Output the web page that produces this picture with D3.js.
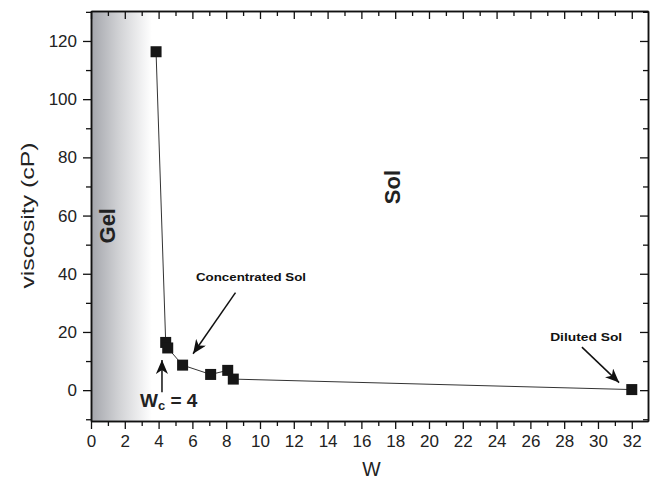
<!DOCTYPE html>
<html>
<head>
<meta charset="utf-8">
<script src="https://cdn.jsdelivr.net/npm/d3@7"></script>
<style>
  body { margin: 0; background: #fff; }
  svg { font-family: "Liberation Sans", Arial, sans-serif; }
  .tick text { font-size: 17px; fill: #222; }
  .domain { stroke: #111; stroke-width: 1.5; }
  .tick line { stroke: #111; stroke-width: 1.3; }
</style>
</head>
<body>
<svg></svg>
<script>
const width = 657;
const height = 479;
const margin = { top: 11, right: 9, bottom: 58, left: 91 };

// Datos
const wValues = [3.85, 4.42, 4.54, 5.42, 7.08, 8.09, 8.42, 32];
const viscosity = [116.3, 16.4, 14.5, 8.6, 5.4, 6.8, 3.8, 0.2];
const xTicks = d3.range(0, 33, 2);
const yTicks = [0, 20, 40, 60, 80, 100, 120];

const svg = d3.select("svg").attr("width", width).attr("height", height);

const x = d3.scaleLinear().domain([0, 32.96]).range([margin.left, width - margin.right]);
const y = d3.scaleLinear().domain([-10.6, 130.3]).range([height - margin.bottom, margin.top]);

// Degradado de la zona "Gel"
const defs = svg.append("defs");
const grad = defs.append("linearGradient").attr("id", "gel").attr("x1", "0").attr("x2", "1").attr("y1", "0").attr("y2", "0");
grad.append("stop").attr("offset", "0%").attr("stop-color", "#a3a5ab");
grad.append("stop").attr("offset", "45%").attr("stop-color", "#d0d1d4");
grad.append("stop").attr("offset", "100%").attr("stop-color", "#ffffff");

svg.append("rect")
  .attr("x", x(0))
  .attr("y", margin.top)
  .attr("width", x(3.6) - x(0))
  .attr("height", height - margin.bottom - margin.top)
  .attr("fill", "url(#gel)");

// Flecha
defs.append("marker")
  .attr("id", "arrow")
  .attr("viewBox", "0 0 14 12")
  .attr("refX", 14).attr("refY", 6)
  .attr("markerWidth", 14).attr("markerHeight", 12)
  .attr("markerUnits", "userSpaceOnUse")
  .attr("orient", "auto")
  .append("path").attr("d", "M0,0 L14,6 L0,12 L4,6 Z").attr("fill", "#111");

// Ejes
const minorX = d3.range(1, 33, 2);
const minorY = d3.range(-10, 131, 20);

function axes(gen, scale, major, minor, transform, inward) {
  const s = inward ? -1 : 1;
  svg.append("g").attr("transform", transform)
    .call(gen(scale).tickValues(minor).tickFormat("").tickSize(5 * s).tickSizeOuter(0));
  const g = svg.append("g").attr("transform", transform)
    .call(gen(scale).tickValues(major).tickSize(8 * s).tickSizeOuter(0).tickPadding(inward ? 0 : 6));
  if (inward) g.selectAll("text").remove();
}

axes(d3.axisBottom, x, xTicks, minorX, `translate(0,${height - margin.bottom})`, false);
axes(d3.axisTop, x, xTicks, minorX, `translate(0,${margin.top})`, true);
axes(d3.axisLeft, y, yTicks, minorY, `translate(${margin.left},0)`, false);
axes(d3.axisRight, y, yTicks, minorY, `translate(${width - margin.right},0)`, true);

// Línea y puntos
const pts = wValues.map((w, i) => [w, viscosity[i]]);
svg.append("path")
  .datum(pts)
  .attr("fill", "none")
  .attr("stroke", "#333")
  .attr("stroke-width", 1)
  .attr("d", d3.line().x(d => x(d[0])).y(d => y(d[1])));

svg.selectAll(".pt")
  .data(pts)
  .join("rect")
  .attr("class", "pt")
  .attr("x", d => x(d[0]) - 5.5)
  .attr("y", d => y(d[1]) - 5.5)
  .attr("width", 11)
  .attr("height", 11)
  .attr("fill", "#161616");

// Etiquetas de ejes
svg.append("text")
  .attr("x", x(16.6))
  .attr("y", 476)
  .attr("text-anchor", "middle")
  .attr("font-size", 19.5)
  .attr("fill", "#222")
  .text("W");

svg.append("text")
  .attr("transform", `translate(34,${y(60)}) rotate(-90)`)
  .attr("text-anchor", "middle")
  .attr("font-size", 19)
  .attr("textLength", 146)
  .attr("lengthAdjust", "spacingAndGlyphs")
  .attr("fill", "#222")
  .text("viscosity (cP)");

// Anotaciones
svg.append("text")
  .attr("transform", `translate(${x(1.3) - 6},${y(56.5)}) rotate(-90)`)
  .attr("text-anchor", "middle")
  .attr("dy", "0.35em")
  .attr("font-size", 22)
  .attr("font-weight", "bold")
  .attr("fill", "#222")
  .text("Gel");

svg.append("text")
  .attr("transform", `translate(${x(17.8)},${y(69.8)}) rotate(-90)`)
  .attr("text-anchor", "middle")
  .attr("dy", "0.35em")
  .attr("font-size", 22)
  .attr("font-weight", "bold")
  .attr("fill", "#222")
  .text("Sol");

svg.append("text")
  .attr("x", x(9.47))
  .attr("y", y(37.4))
  .attr("text-anchor", "middle")
  .attr("font-size", 11)
  .attr("textLength", 110)
  .attr("lengthAdjust", "spacingAndGlyphs")
  .attr("font-weight", "bold")
  .attr("fill", "#111")
  .text("Concentrated Sol");

svg.append("text")
  .attr("x", x(29.3))
  .attr("y", y(16.9))
  .attr("text-anchor", "middle")
  .attr("font-size", 11.5)
  .attr("textLength", 72)
  .attr("lengthAdjust", "spacingAndGlyphs")
  .attr("font-weight", "bold")
  .attr("fill", "#111")
  .text("Diluted Sol");

const wc = svg.append("text")
  .attr("x", x(4.6))
  .attr("y", y(-5.9))
  .attr("text-anchor", "middle")
  .attr("font-size", 19)
  .attr("font-weight", "bold")
  .attr("fill", "#222");
wc.append("tspan").text("W");
wc.append("tspan").attr("font-size", 13).attr("dy", 3).text("c");
wc.append("tspan").attr("dy", -3).text(" = 4");

const arrows = [
  [[8.55, 33.5], [6.04, 12.5]],
  [[4.2, -0.7], [4.2, 10.4]],
  [[29.05, 14.8], [31.25, 2.6]]
];
svg.selectAll(".arr")
  .data(arrows)
  .join("line")
  .attr("class", "arr")
  .attr("x1", d => x(d[0][0]))
  .attr("y1", d => y(d[0][1]))
  .attr("x2", d => x(d[1][0]))
  .attr("y2", d => y(d[1][1]))
  .attr("stroke", "#111")
  .attr("stroke-width", 1.5)
  .attr("marker-end", "url(#arrow)");
</script>
</body>
</html>
